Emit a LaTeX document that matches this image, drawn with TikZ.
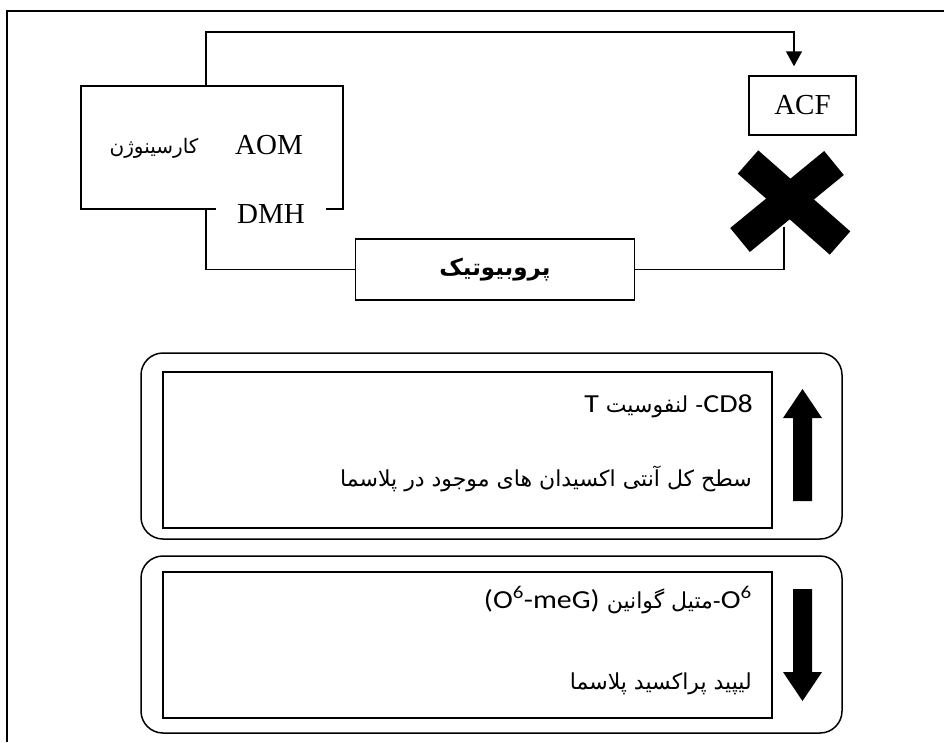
\documentclass[tikz,border=0pt]{standalone}
\usepackage{fontspec}
\setmainfont{Liberation Serif}
\newfontfamily\arabicfont[Script=Arabic]{DejaVu Sans}
\newfontfamily\latinsans[FakeStretch=1.15]{Carlito}
\TeXXeTstate=1
\usetikzlibrary{arrows.meta}

\newcommand\lat[1]{{\latinsans\fontsize{26}{30}\selectfont\beginL #1\endL}}

\tikzset{
  line/.style={line width=1.5pt},
  plainbox/.style={draw,line width=1.5pt,inner sep=0pt},
  roundbox/.style={plainbox,rounded corners=22pt},
  label/.style={inner sep=0pt,font=\fontsize{29}{34}\selectfont},
  fatext/.style={inner sep=0pt,anchor=base east,font=\arabicfont\fontsize{22}{26}\selectfont},
  xarm/.style={line width=31pt},
}

\begin{document}
\begin{tikzpicture}[x=1pt,y=-1pt]
\useasboundingbox (0,0) rectangle (944,742);
\draw[line] (944,11) -- (7,11) -- (7,742);

% carcinogen box
\node[plainbox,minimum width=262pt,minimum height=123pt] (carc) at (212,147.5) {};
\node[label] (aom) at (269,145) {AOM};
\node[inner sep=0pt,font=\arabicfont\fontsize{20}{24}\selectfont] (carcfa) at (154,148) {\beginR کارسینوژن\endR};
\node[label,anchor=base,fill=white,inner xsep=21pt] (dmh) at (271,223) {DMH};

\node[plainbox,label,minimum width=107pt,minimum height=59pt] (acf) at (802.5,105.5) {ACF};
\node[plainbox,minimum width=279pt,minimum height=61pt,font=\arabicfont\bfseries\fontsize{23}{27}\selectfont] (probio) at (495,269.5) {\beginR پروبیوتیک\endR};

\coordinate (toprail) at (500,32);
\coordinate (xmark) at (784,227);
\draw[line,-{Triangle[width=16pt,length=15pt]}] ([xshift=-6pt]carc.north) |- (toprail) -| ([xshift=-8.5pt,yshift=9pt]acf.north);
\draw[line] ([xshift=-6pt]carc.south) |- (probio.west);
\draw[line] (probio.east) -| (xmark);

% the cross
\draw[xarm] (748,162) -- (840,243);
\draw[xarm] (834,163) -- (740,240);

% increased
\node[roundbox,minimum width=701pt,minimum height=186pt] (upbox) at (491.5,446) {};
\node[plainbox,minimum width=609pt,minimum height=156pt] (upin) at (467.5,450) {};
\node[fatext] (cdline) at (753,412) {\beginR\lat{CD8}- لنفوسیت \lat{T}\endR};
\node[fatext] (aoxline) at (752,486) {\beginR سطح کل آنتی اکسیدان های موجود در پلاسما\endR};
\fill (793,501) -- (793,418) -- (783,418) -- (802.5,389) -- (822,418) -- (812,418) -- (812,501) -- cycle;

% decreased
\node[roundbox,minimum width=701pt,minimum height=177pt] (downbox) at (491.5,644.5) {};
\node[plainbox,minimum width=609pt,minimum height=146pt] (downin) at (467.5,645) {};
\node[fatext] (megline) at (752,608) {\beginR\lat{O\textsuperscript{6}}-متیل گوانین \lat{(O\textsuperscript{6}-meG)}\endR};
\node[fatext] (lpoline) at (752,689) {\beginR لیپید پراکسید پلاسما\endR};
\fill (793,589) -- (793,672) -- (783,672) -- (802.5,701) -- (822,672) -- (812,672) -- (812,589) -- cycle;
\end{tikzpicture}
\end{document}
